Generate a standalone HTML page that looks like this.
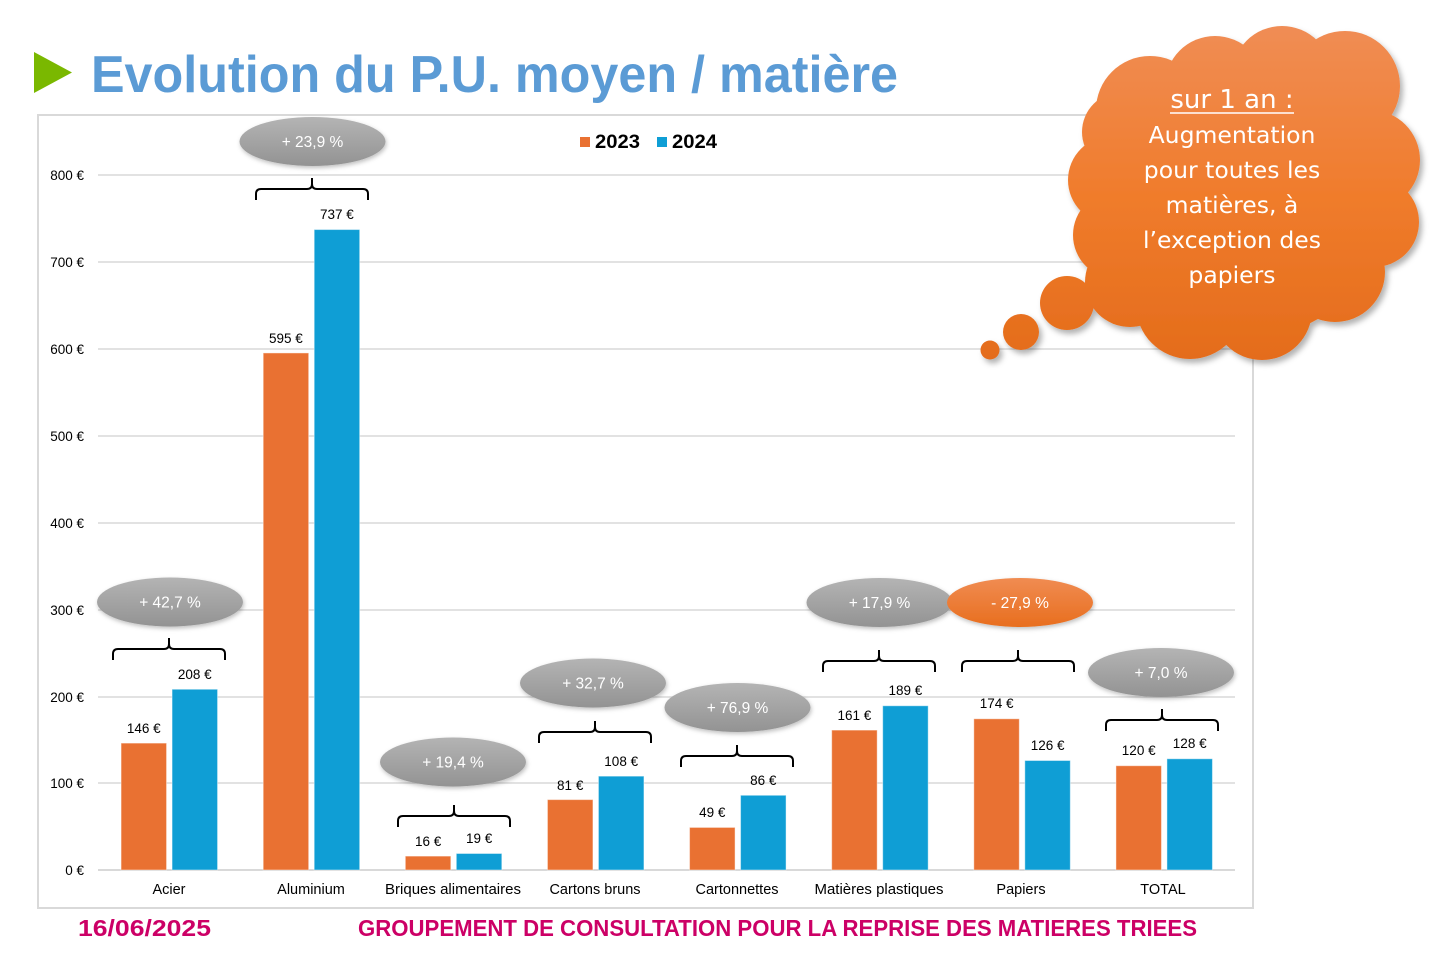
<!DOCTYPE html>
<html>
<head>
<meta charset="utf-8">
<style>
  html,body{margin:0;padding:0;background:#fff;}
  body{width:1429px;height:957px;overflow:hidden;}
  svg{display:block;}
</style>
</head>
<body>
<svg width="1429" height="957" viewBox="0 0 1429 957" xmlns="http://www.w3.org/2000/svg">
  <defs>
    <linearGradient id="gray" x1="0" y1="0" x2="0" y2="1">
      <stop offset="0" stop-color="#b4b4b4"/>
      <stop offset="1" stop-color="#939393"/>
    </linearGradient>
    <linearGradient id="orb" x1="0" y1="0" x2="0" y2="1">
      <stop offset="0" stop-color="#f08c52"/>
      <stop offset="1" stop-color="#e86e1e"/>
    </linearGradient>
    <linearGradient id="cloudg" gradientUnits="userSpaceOnUse" x1="0" y1="25" x2="0" y2="362">
      <stop offset="0" stop-color="#f08d55"/>
      <stop offset="0.5" stop-color="#f07c2c"/>
      <stop offset="1" stop-color="#e46c1b"/>
    </linearGradient>
    <filter id="sh" x="-20%" y="-20%" width="140%" height="150%">
      <feDropShadow dx="1" dy="2" stdDeviation="2" flood-color="#000" flood-opacity="0.25"/>
    </filter>
    <filter id="csh" x="-10%" y="-10%" width="125%" height="125%">
      <feDropShadow dx="3" dy="4" stdDeviation="3" flood-color="#000" flood-opacity="0.3"/>
    </filter>
  </defs>

  <!-- Title -->
  <polygon points="34,52 72,72.5 34,93" fill="#7ab800"/>
  <text x="91" y="92" font-family="Liberation Sans, sans-serif" font-weight="bold" font-size="52" fill="#5b9bd5" textLength="807" lengthAdjust="spacingAndGlyphs">Evolution du P.U. moyen / matière</text>

  <!-- Chart frame -->
  <rect x="38" y="115" width="1215" height="793" fill="#fff" stroke="#d9d9d9" stroke-width="2"/>

  <!-- Gridlines -->
  <g stroke="#d9d9d9" stroke-width="1.5">
    <line x1="98" y1="175" x2="1235" y2="175"/>
    <line x1="98" y1="262" x2="1235" y2="262"/>
    <line x1="98" y1="349" x2="1235" y2="349"/>
    <line x1="98" y1="436" x2="1235" y2="436"/>
    <line x1="98" y1="523" x2="1235" y2="523"/>
    <line x1="98" y1="610" x2="1235" y2="610"/>
    <line x1="98" y1="697" x2="1235" y2="697"/>
    <line x1="98" y1="783" x2="1235" y2="783"/>
    <line x1="98" y1="870" x2="1235" y2="870" stroke-width="2"/>
  </g>

  <!-- Y labels -->
  <g font-family="Liberation Sans, sans-serif" font-size="13.5" fill="#000" text-anchor="end">
    <text x="84" y="180">800 €</text>
    <text x="84" y="267">700 €</text>
    <text x="84" y="354">600 €</text>
    <text x="84" y="441">500 €</text>
    <text x="84" y="528">400 €</text>
    <text x="84" y="615">300 €</text>
    <text x="84" y="702">200 €</text>
    <text x="84" y="788">100 €</text>
    <text x="84" y="875">0 €</text>
  </g>

  <!-- Legend -->
  <rect x="580" y="137" width="10" height="10" fill="#e97132"/>
  <text x="595" y="148" font-family="Liberation Sans, sans-serif" font-weight="bold" font-size="19" textLength="45" lengthAdjust="spacingAndGlyphs">2023</text>
  <rect x="657" y="137" width="10" height="10" fill="#0f9ed5"/>
  <text x="672" y="148" font-family="Liberation Sans, sans-serif" font-weight="bold" font-size="19" textLength="45" lengthAdjust="spacingAndGlyphs">2024</text>

  <!-- Bars -->
  <g stroke="#ffffff" stroke-opacity="0.45" stroke-width="1">
    <rect x="121.06" y="743.1" width="45.5" height="126.9" fill="#e97132"/>
    <rect x="172.06" y="689.25" width="45.5" height="180.75" fill="#0f9ed5"/>
    <rect x="263.19" y="352.94" width="45.5" height="517.06" fill="#e97132"/>
    <rect x="314.19" y="229.55" width="45.5" height="640.45" fill="#0f9ed5"/>
    <rect x="405.31" y="856.1" width="45.5" height="13.9" fill="#e97132"/>
    <rect x="456.31" y="853.49" width="45.5" height="16.51" fill="#0f9ed5"/>
    <rect x="547.44" y="799.61" width="45.5" height="70.39" fill="#e97132"/>
    <rect x="598.44" y="776.15" width="45.5" height="93.85" fill="#0f9ed5"/>
    <rect x="689.56" y="827.42" width="45.5" height="42.58" fill="#e97132"/>
    <rect x="740.56" y="795.27" width="45.5" height="74.73" fill="#0f9ed5"/>
    <rect x="831.69" y="730.09" width="45.5" height="139.91" fill="#e97132"/>
    <rect x="882.69" y="705.76" width="45.5" height="164.24" fill="#0f9ed5"/>
    <rect x="973.81" y="718.79" width="45.5" height="151.21" fill="#e97132"/>
    <rect x="1024.81" y="760.51" width="45.5" height="109.49" fill="#0f9ed5"/>
    <rect x="1115.94" y="765.72" width="45.5" height="104.28" fill="#e97132"/>
    <rect x="1166.94" y="758.77" width="45.5" height="111.23" fill="#0f9ed5"/>
  </g>

  <!-- Value labels -->
  <g font-family="Liberation Sans, sans-serif" font-size="13.5" fill="#000" text-anchor="middle">
    <text x="143.8" y="733">146 €</text>
    <text x="194.8" y="679">208 €</text>
    <text x="285.9" y="343">595 €</text>
    <text x="336.9" y="219">737 €</text>
    <text x="428.1" y="846">16 €</text>
    <text x="479.1" y="843">19 €</text>
    <text x="570.2" y="790">81 €</text>
    <text x="621.2" y="766">108 €</text>
    <text x="712.3" y="817">49 €</text>
    <text x="763.3" y="785">86 €</text>
    <text x="854.4" y="720">161 €</text>
    <text x="905.4" y="695">189 €</text>
    <text x="996.6" y="708">174 €</text>
    <text x="1047.6" y="750">126 €</text>
    <text x="1138.7" y="755">120 €</text>
    <text x="1189.7" y="748">128 €</text>
  </g>

  <!-- Category labels -->
  <g font-family="Liberation Sans, sans-serif" font-size="14.5" fill="#000" text-anchor="middle">
    <text x="169" y="894">Acier</text>
    <text x="311" y="894">Aluminium</text>
    <text x="453" y="894" textLength="136" lengthAdjust="spacingAndGlyphs">Briques alimentaires</text>
    <text x="595" y="894">Cartons bruns</text>
    <text x="737" y="894">Cartonnettes</text>
    <text x="879" y="894" textLength="129" lengthAdjust="spacingAndGlyphs">Matières plastiques</text>
    <text x="1021" y="894">Papiers</text>
    <text x="1163" y="894">TOTAL</text>
  </g>

  <!-- Braces -->
  <g fill="none" stroke="#000" stroke-width="2" stroke-linejoin="round">
    <path d="M113,660 L113,654 Q113,649 118,649 L164,649 Q169,649 169,644 L169,638 M169,644 Q169,649 174,649 L220,649 Q225,649 225,654 L225,660"/>
    <path d="M256,200 L256,194 Q256,189 261,189 L307,189 Q312,189 312,184 L312,178 M312,184 Q312,189 317,189 L363,189 Q368,189 368,194 L368,200"/>
    <path d="M398,827 L398,821 Q398,816 403,816 L449,816 Q454,816 454,811 L454,805 M454,811 Q454,816 459,816 L505,816 Q510,816 510,821 L510,827"/>
    <path d="M539,743 L539,737 Q539,732 544,732 L590,732 Q595,732 595,727 L595,721 M595,727 Q595,732 600,732 L646,732 Q651,732 651,737 L651,743"/>
    <path d="M681,767 L681,761 Q681,756 686,756 L732,756 Q737,756 737,751 L737,745 M737,751 Q737,756 742,756 L788,756 Q793,756 793,761 L793,767"/>
    <path d="M823,672 L823,666 Q823,661 828,661 L874,661 Q879,661 879,656 L879,650 M879,656 Q879,661 884,661 L930,661 Q935,661 935,666 L935,672"/>
    <path d="M962,672 L962,666 Q962,661 967,661 L1013,661 Q1018,661 1018,656 L1018,650 M1018,656 Q1018,661 1023,661 L1069,661 Q1074,661 1074,666 L1074,672"/>
    <path d="M1106,731 L1106,725 Q1106,720 1111,720 L1157,720 Q1162,720 1162,715 L1162,709 M1162,715 Q1162,720 1167,720 L1213,720 Q1218,720 1218,725 L1218,731"/>
  </g>

  <!-- Bubbles -->
  <g filter="url(#sh)">
    <ellipse cx="170" cy="602" rx="73" ry="24.5" fill="url(#gray)"/>
    <ellipse cx="312.5" cy="141.5" rx="73" ry="24.5" fill="url(#gray)"/>
    <ellipse cx="453" cy="762" rx="73" ry="24.5" fill="url(#gray)"/>
    <ellipse cx="593" cy="683" rx="73" ry="24.5" fill="url(#gray)"/>
    <ellipse cx="737.5" cy="707.5" rx="73" ry="24.5" fill="url(#gray)"/>
    <ellipse cx="879.5" cy="602.5" rx="73" ry="24.5" fill="url(#gray)"/>
    <ellipse cx="1020" cy="602.5" rx="73" ry="24.5" fill="url(#orb)"/>
    <ellipse cx="1161" cy="672.5" rx="73" ry="24.5" fill="url(#gray)"/>
  </g>
  <g font-family="Liberation Sans, sans-serif" font-size="15.5" fill="#fff" text-anchor="middle">
    <text x="170" y="607.5">+ 42,7 %</text>
    <text x="312.5" y="147">+ 23,9 %</text>
    <text x="453" y="767.5">+ 19,4 %</text>
    <text x="593" y="688.5">+ 32,7 %</text>
    <text x="737.5" y="713">+ 76,9 %</text>
    <text x="879.5" y="608">+ 17,9 %</text>
    <text x="1020" y="608">- 27,9 %</text>
    <text x="1161" y="678">+ 7,0 %</text>
  </g>

  <!-- Cloud -->
  <g filter="url(#csh)" fill="url(#cloudg)">
    <circle cx="990" cy="350" r="9.5"/>
    <circle cx="1021" cy="332" r="18"/>
    <circle cx="1067" cy="303" r="27"/>
    <ellipse cx="1240" cy="195" rx="150" ry="145"/>
    <circle cx="1150" cy="110" r="54"/>
    <circle cx="1215" cy="86" r="50"/>
    <circle cx="1282" cy="76" r="50"/>
    <circle cx="1345" cy="86" r="55"/>
    <circle cx="1370" cy="160" r="50"/>
    <circle cx="1374" cy="222" r="45"/>
    <circle cx="1335" cy="272" r="50"/>
    <circle cx="1262" cy="310" r="50"/>
    <circle cx="1190" cy="305" r="54"/>
    <circle cx="1130" cy="282" r="45"/>
    <circle cx="1112" cy="180" r="44"/>
    <circle cx="1117" cy="235" r="44"/>
    <circle cx="1122" cy="132" r="40"/>
  </g>
  <g font-family="DejaVu Sans, Liberation Sans, sans-serif" font-size="23.5" fill="#fff" text-anchor="middle">
    <text x="1232" y="108" font-size="26">sur 1 an :</text>
    <text x="1232" y="143">Augmentation</text>
    <text x="1232" y="178">pour toutes les</text>
    <text x="1232" y="213">matières, à</text>
    <text x="1232" y="248">l’exception des</text>
    <text x="1232" y="283">papiers</text>
  </g>
  <line x1="1170" y1="113" x2="1294" y2="113" stroke="#fff" stroke-width="1.5"/>

  <!-- Footer -->
  <text x="78" y="936" font-family="Liberation Sans, sans-serif" font-weight="bold" font-size="23" fill="#cc0066" textLength="133" lengthAdjust="spacingAndGlyphs">16/06/2025</text>
  <text x="358" y="936" font-family="Liberation Sans, sans-serif" font-weight="bold" font-size="23" fill="#cc0066" textLength="839" lengthAdjust="spacingAndGlyphs">GROUPEMENT DE CONSULTATION POUR LA REPRISE DES MATIERES TRIEES</text>
</svg>
</body>
</html>
